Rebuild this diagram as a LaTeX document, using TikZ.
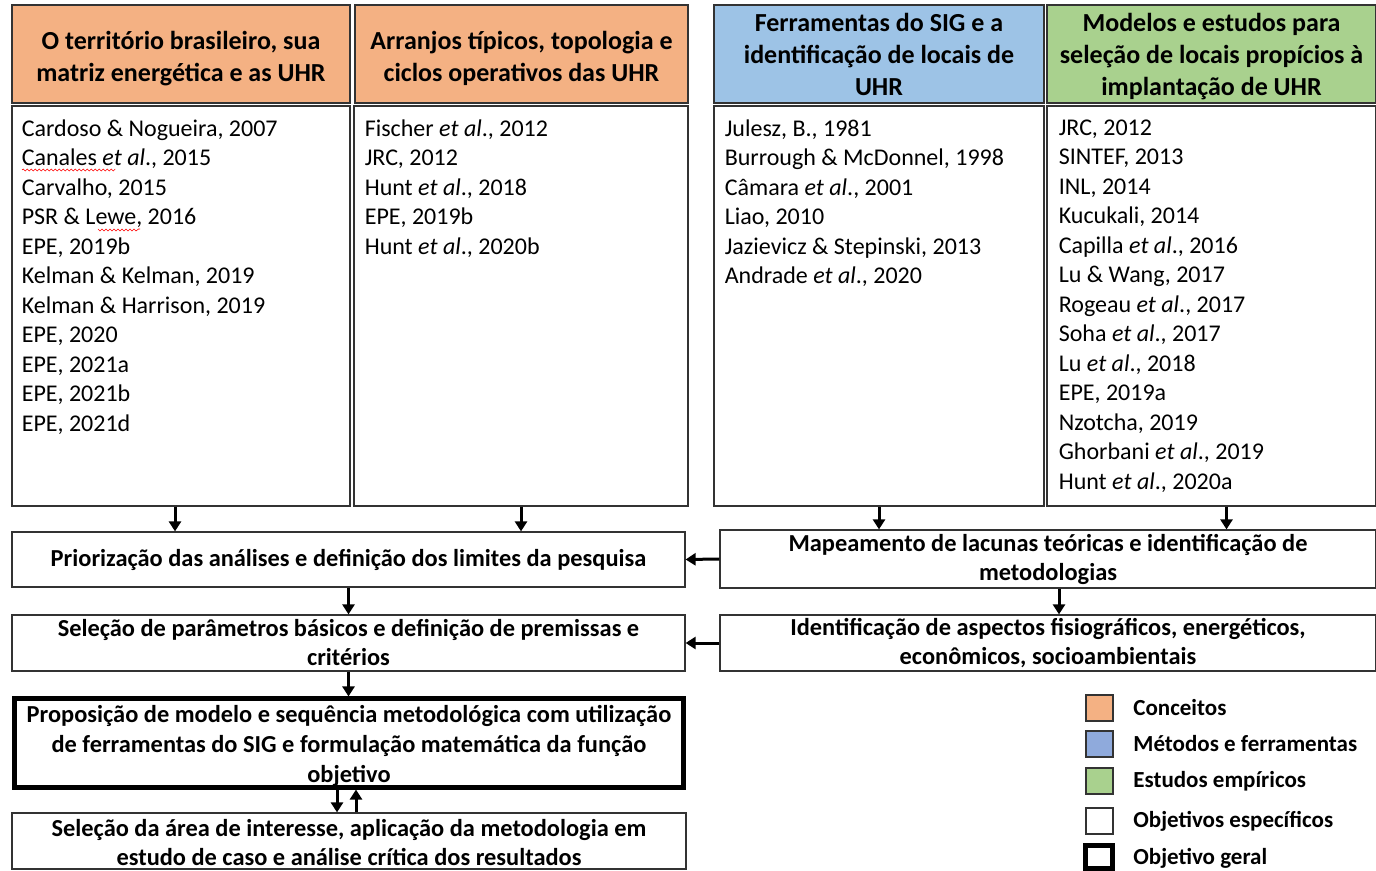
\documentclass[tikz,border=0pt]{standalone}
\usepackage{fontspec}
\setmainfont{Carlito}
\usetikzlibrary{arrows.meta,decorations.pathmorphing}
\definecolor{laranja}{HTML}{F4B183}
\definecolor{azul}{HTML}{9DC3E6}
\definecolor{azulleg}{HTML}{8FAADC}
\definecolor{verde}{HTML}{A9D18E}
\begin{document}
\begin{tikzpicture}[x=0.5pt,y=-0.5pt,
	cab/.style={draw=black!80,line width=0.6pt,inner sep=0pt,minimum height=49pt,align=center,font=\fontsize{13}{16}\selectfont\bfseries},
	corpo/.style={draw=black!80,line width=0.6pt,inner sep=0pt,minimum height=200pt},
	lista/.style={anchor=north west,inner sep=0pt,align=left,font=\fontsize{12}{14.75}\selectfont},
	caixa/.style={draw=black!80,line width=0.6pt,inner sep=0pt,align=center,font=\fontsize{12.2}{14.5}\selectfont\bfseries},
	seta/.style={line width=1.5pt,-{Triangle[width=6pt,length=5pt]}}]
			\useasboundingbox (0,0) rectangle (1376,871);
			% cabecalhos
			\node[cab,fill=laranja,minimum width=169pt] (h1) at (181,54) {\rule{0pt}{13.5pt}O território brasileiro, sua\\matriz energética e as UHR};
			\node[cab,fill=laranja,minimum width=166.5pt] (h2) at (521.5,54) {\rule{0pt}{13.5pt}Arranjos típicos, topologia e\\ciclos operativos das UHR};
			\node[cab,fill=azul,minimum width=165pt] (h3) at (879,54) {Ferramentas do SIG e a\\identificação de locais de\\UHR};
			\node[cab,fill=verde,minimum width=164.5pt] (h4) at (1211.5,54) {\rule{0pt}{12pt}Modelos e estudos para\\seleção de locais propícios à\\implantação de UHR};
			% referencias
			\node[corpo,minimum width=169pt] (c1) at (181,306) {};
			\node[corpo,minimum width=167pt] (c2) at (521,306) {};
			\node[corpo,minimum width=165pt] (c3) at (879,306) {};
			\node[corpo,minimum width=164.5pt] (c4) at (1211.5,306) {};
			\node[lista] (l1) at ([xshift=5pt,yshift=-7pt]c1.north west) {Cardoso \& Nogueira, 2007\\Canales \textit{et al}., 2015\\Carvalho, 2015\\PSR \& Lewe, 2016\\EPE, 2019b\\Kelman \& Kelman, 2019\\Kelman \& Harrison, 2019\\EPE, 2020\\EPE, 2021a\\EPE, 2021b\\EPE, 2021d};
			\node[lista] (l2) at ([xshift=5.5pt,yshift=-7pt]c2.north west) {Fischer \textit{et al}., 2012\\JRC, 2012\\Hunt \textit{et al}., 2018\\EPE, 2019b\\Hunt \textit{et al}., 2020b};
			\node[lista] (l3) at ([xshift=5.5pt,yshift=-7pt]c3.north west) {Julesz, B., 1981\\Burrough \& McDonnel, 1998\\Câmara \textit{et al}., 2001\\Liao, 2010\\Jazievicz \& Stepinski, 2013\\Andrade \textit{et al}., 2020};
			\node[lista] (l4) at ([xshift=6pt,yshift=-7pt]c4.north west) {JRC, 2012\\SINTEF, 2013\\INL, 2014\\Kucukali, 2014\\Capilla \textit{et al}., 2016\\Lu \& Wang, 2017\\Rogeau \textit{et al}., 2017\\Soha \textit{et al}., 2017\\Lu \textit{et al}., 2018\\EPE, 2019a\\Nzotcha, 2019\\Ghorbani \textit{et al}., 2019\\Hunt \textit{et al}., 2020a};
			\draw[red,line width=0.3pt,decorate,decoration={snake,amplitude=0.5pt,segment length=2pt}] (22,170)--(114,170) (98,229)--(140,229);
			% objetivos
			\node[caixa,minimum width=336.5pt,minimum height=27.5pt] (p1) at (348.5,559.5) {Priorização das análises e definição dos limites da pesquisa};
			\node[caixa,minimum width=328pt,minimum height=29pt] (m1) at (1048,559) {Mapeamento de lacunas teóricas e identificação de\\metodologias};
			\node[caixa,minimum width=336.5pt,minimum height=28pt] (p2) at (348.5,643) {Seleção de parâmetros básicos e definição de premissas e\\critérios};
			\node[caixa,minimum width=328pt,minimum height=28pt] (m2) at (1048,643) {Identificação de aspectos fisiográficos, energéticos,\\econômicos, socioambientais};
			\node[caixa,draw=black,line width=2.5pt,minimum width=334.5pt,minimum height=43.5pt,font=\fontsize{12.2}{15}\selectfont\bfseries] (p3) at (349,743) {\rule{0pt}{12pt}Proposição de modelo e sequência metodológica com utilização\\de ferramentas do SIG e formulação matemática da função\\objetivo};
			\node[caixa,minimum width=337pt,minimum height=28pt] (p4) at (349,841) {\rule{0pt}{10.5pt}Seleção da área de interesse, aplicação da metodologia em\\estudo de caso e análise crítica dos resultados};
			% setas
			\draw[seta] ([xshift=-3pt]c1.south)--([xshift=-3pt]c1.south |- p1.north);
			\draw[seta] (c2.south)--(c2.south |- p1.north);
			\draw[seta] (c3.south)--(c3.south |- m1.north);
			\draw[seta] ([xshift=7.5pt]c4.south)--([xshift=7.5pt]c4.south |- m1.north);
			\draw[seta] (m1.west)--(p1.east);
			\draw[seta] (m2.west)--(p2.east);
			\draw[seta] (p1.south)--(p2.north);
			\draw[seta] ([xshift=5.5pt]m1.south)--([xshift=5.5pt]m1.south |- m2.north);
			\draw[seta] (p2.south)--(p2.south |- p3.north);
			\draw[seta] ([xshift=-6pt]p3.south)--([xshift=-6pt]p3.south |- p4.north);
			\draw[seta] ([xshift=3.5pt]p4.north)--([xshift=3.5pt]p4.north |- p3.south);
			% legenda
			\foreach \y/\cor/\txt [count=\i] in {708/laranja/Conceitos,744/azulleg/Métodos e ferramentas,781/verde/Estudos empíricos,821/white/Objetivos específicos}{
				\node[draw=black!80,line width=0.6pt,fill=\cor,minimum width=13.5pt,minimum height=13pt,inner sep=0pt] (q\i) at (1099.5,\y) {};
				\node[anchor=west,inner sep=0pt,font=\fontsize{11.5}{12}\selectfont\bfseries] (t\i) at (1133,\y) {\txt};
			}
			\node[draw,line width=2.5pt,minimum width=13.5pt,minimum height=11.5pt,inner sep=0pt] (q5) at (1099,857) {};
			\node[anchor=west,inner sep=0pt,font=\fontsize{11.5}{12}\selectfont\bfseries] (t5) at (1133,858) {Objetivo geral};
		\end{tikzpicture}
\end{document}
